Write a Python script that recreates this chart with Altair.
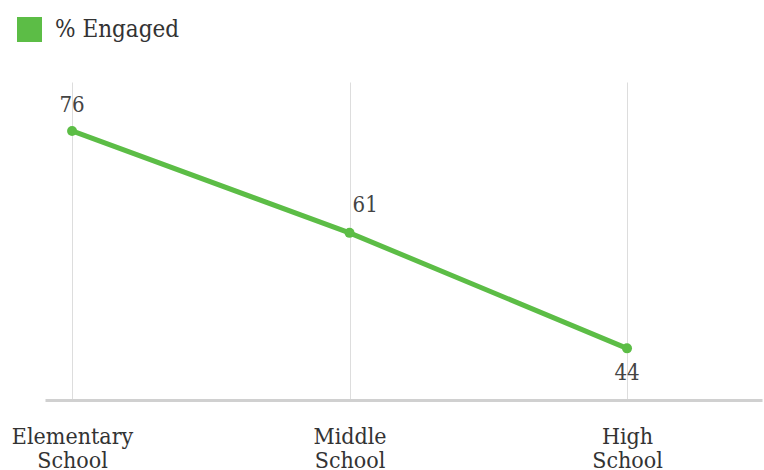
import altair as alt
import pandas as pd

categories = ["Elementary School", "Middle School", "High School"]
values = [76, 61, 44]
series_name = "% Engaged"
label_side = ["above", "right", "below"]

df = pd.DataFrame({
    "level": categories,
    "value": values,
    "series": [series_name] * len(categories),
    "side": label_side,
})

GREEN = "#5cbd46"
FONT = "DejaVu Serif Condensed"

x_enc = alt.X(
    "level:N",
    sort=categories,
    scale=alt.Scale(type="point", padding=0.292, align=0.167),
    axis=alt.Axis(
        title=None,
        labelAngle=0,
        labelExpr="split(datum.label, ' ')",
        labelFont=FONT,
        labelFontSize=23,
        labelLineHeight=24,
        labelColor="#333333",
        labelBaseline="top",
        labelPadding=25,
        ticks=False,
        grid=True,
        gridColor="#dddddd",
        gridWidth=1,
        domainColor="#d0d0d0",
        domainWidth=3,
    ),
)
y_enc = alt.Y(
    "value:Q",
    scale=alt.Scale(domain=[36.4, 83.2], nice=False, zero=False),
    axis=None,
)
color_enc = alt.Color(
    "series:N",
    scale=alt.Scale(domain=[series_name], range=[GREEN]),
    legend=alt.Legend(
        title=None,
        orient="none",
        legendX=-28,
        legendY=-65,
        symbolType="square",
        symbolSize=625,
        symbolStrokeWidth=0,
        symbolFillColor=GREEN,
        symbolOpacity=1,
        labelFont=FONT,
        labelFontSize=24,
        labelColor="#333333",
        labelOffset=13,
        padding=0,
    ),
)

base = alt.Chart(df).encode(x=x_enc, y=y_enc)

line = base.mark_line(strokeWidth=5, color=GREEN)
points = base.mark_point(filled=True, size=100, opacity=1).encode(color=color_enc)

text_style = dict(font=FONT, fontSize=22, color="#444444")
lbl_above = base.transform_filter(alt.datum.side == "above").mark_text(
    align="center", baseline="middle", dy=-26, **text_style
).encode(text="value:Q")
lbl_right = base.transform_filter(alt.datum.side == "right").mark_text(
    align="left", baseline="middle", dx=3, dy=-28, **text_style
).encode(text="value:Q")
lbl_below = base.transform_filter(alt.datum.side == "below").mark_text(
    align="center", baseline="middle", dy=25, **text_style
).encode(text="value:Q")

chart = (
    alt.layer(line, points, lbl_above, lbl_right, lbl_below)
    .properties(
        width=717,
        height=318,
        autosize=alt.AutoSizeParams(type="none"),
        padding={"left": 45, "top": 82, "right": 2, "bottom": 70},
        background="white",
    )
    .configure_view(stroke=None)
)

chart.save("out.html", embed_options={"renderer": "svg", "actions": False})
